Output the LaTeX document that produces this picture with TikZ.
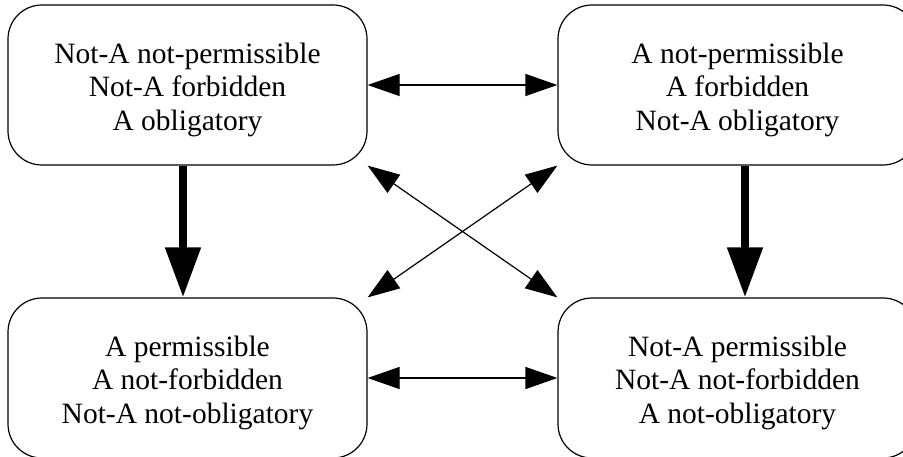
\documentclass[tikz,border=0pt]{standalone}
\usepackage{fontspec}
\setmainfont{Liberation Serif}
\usetikzlibrary{arrows.meta}
\begin{document}
\begin{tikzpicture}[x=1pt,y=-1pt,
  state/.style={draw, line width=1.2pt, rounded corners=34pt,
    minimum width=359pt, minimum height=160pt, inner sep=0pt},
  statetext/.style={align=center, inner sep=0pt, yshift=-4.5pt,
    font=\fontsize{29.5}{33.5}\selectfont},
  pair/.style={line width=1.2pt,
    {Triangle[length=32pt,width=22pt]}-{Triangle[length=32pt,width=22pt]}},
  implies/.style={line width=8pt, -{Triangle[length=50pt,width=34pt]}}]
\useasboundingbox (0,0) rectangle (903,457);
\clip (0,0) rectangle (903,457);

% the four deontic states
\node[state, label={[statetext]center:{Not-A not-permissible\\Not-A forbidden\\A obligatory}}]
  (tl) at (187.5,85) {};
\node[state, label={[statetext]center:{A not-permissible\\A forbidden\\Not-A obligatory}}]
  (tr) at (737.5,85) {};
\node[state, label={[statetext]center:{A permissible\\A not-forbidden\\Not-A not-obligatory}}]
  (bl) at (187.5,378) {};
\node[state, label={[statetext]center:{Not-A permissible\\Not-A not-forbidden\\A not-obligatory}}]
  (br) at (737.5,378) {};

% contraries and subcontraries
\draw[pair] (tl.east) -- (tr.west);
\draw[pair] (bl.east) -- (br.west);

% contradictories
\draw[pair] (tl.south east) -- (br.north west);
\draw[pair] (tr.south west) -- (bl.north east);

% implications
\draw[implies] ([xshift=-4.5pt]tl.south) -- ([xshift=-4.5pt]bl.north);
\draw[implies] ([xshift=7.5pt]tr.south) -- ([xshift=7.5pt]br.north);
\end{tikzpicture}
\end{document}
